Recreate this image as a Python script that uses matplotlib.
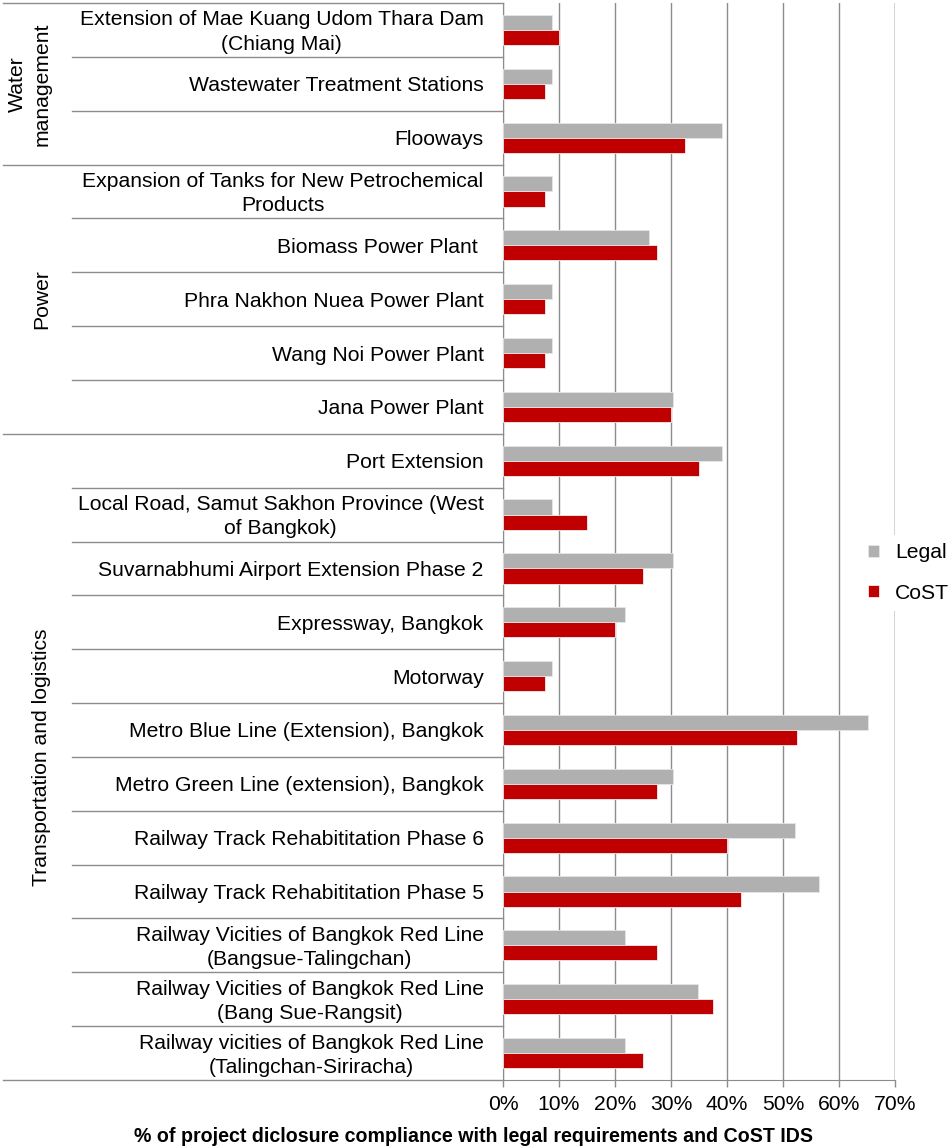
import numpy as np
import matplotlib
matplotlib.use("Agg")
import matplotlib.pyplot as plt
import matplotlib.transforms as mtransforms

plt.rcParams['font.family'] = ['Liberation Sans', 'DejaVu Sans']

# --- project list (top to bottom) and compliance scores ---
projects = [
    "Extension of Mae Kuang Udom Thara Dam\n(Chiang Mai)",
    "Wastewater Treatment Stations",
    "Flooways",
    "Expansion of Tanks for New Petrochemical\nProducts",
    "Biomass Power Plant ",
    "Phra Nakhon Nuea Power Plant",
    "Wang Noi Power Plant",
    "Jana Power Plant",
    "Port Extension",
    "Local Road, Samut Sakhon Province (West\nof Bangkok)",
    "Suvarnabhumi Airport Extension Phase 2",
    "Expressway, Bangkok",
    "Motorway",
    "Metro Blue Line (Extension), Bangkok",
    "Metro Green Line (extension), Bangkok",
    "Railway Track Rehabititation Phase 6",
    "Railway Track Rehabititation Phase 5",
    "Railway Vicities of Bangkok Red Line\n(Bangsue-Talingchan)",
    "Railway Vicities of Bangkok Red Line\n(Bang Sue-Rangsit)",
    "Railway vicities of Bangkok Red Line\n(Talingchan-Siriracha)",
]
legal = [8.7, 8.7, 39.1, 8.7, 26.1, 8.7, 8.7, 30.4, 39.1, 8.7,
         30.4, 21.7, 8.7, 65.2, 30.4, 52.2, 56.5, 21.7, 34.8, 21.7]
cost = [10.0, 7.5, 32.5, 7.5, 27.5, 7.5, 7.5, 30.0, 35.0, 15.0,
        25.0, 20.0, 7.5, 52.5, 27.5, 40.0, 42.5, 27.5, 37.5, 25.0]

sectors = ["Water\nmanagement", "Power", "Transportation and logistics"]
sector_sizes = [3, 5, 12]

xticks = [0, 10, 20, 30, 40, 50, 60, 70]

GRAY = "#b0b0b0"
RED = "#c00000"
LINE = "#8c8c8c"
FS = 15.2
W, H = 951, 1147

fig = plt.figure(figsize=(W / 100, H / 100), dpi=100)
ax = fig.add_axes([503 / W, 1 - 1080 / H, 392 / W, 1077 / H])

n = len(projects)
y = np.arange(n)
bh = 0.28
ax.barh(y - bh / 2, legal, height=bh, color=GRAY, edgecolor="#e6e6e6", linewidth=0.6, label="Legal", zorder=3)
ax.barh(y + bh / 2, cost, height=bh, color=RED, edgecolor="#eeeeee", linewidth=0.6, label="CoST", zorder=3)

ax.set_xlim(0, 70)
ax.set_ylim(n - 0.5, -0.5)
ax.set_xticks(xticks)
ax.set_xticklabels([f"{v}%" for v in xticks])
ax.set_yticks(y)
ax.set_yticklabels(projects)
ax.tick_params(axis="y", length=0, pad=14, labelsize=FS)
ax.tick_params(axis="x", length=5, width=1, color=LINE, pad=6, labelsize=FS)

# two-line names: centre the block and nudge it up a touch
lift = mtransforms.ScaledTranslation(0, 2.5 / 100, fig.dpi_scale_trans)
for lbl in ax.get_yticklabels():
    lbl.set_multialignment("center")
    lbl.set_linespacing(1.35)
    if "\n" in lbl.get_text():
        lbl.set_transform(lbl.get_transform() + lift)

for s in ["top", "right"]:
    ax.spines[s].set_visible(False)
ax.spines["left"].set_color(LINE)
ax.spines["bottom"].set_color(LINE)
ax.xaxis.grid(True, color=LINE, linewidth=1, zorder=0)
ax.axvline(70, color=LINE, linewidth=1, zorder=0)

# separators on the category axis: short ones between projects, long ones between sectors
trans = mtransforms.blended_transform_factory(ax.transAxes, ax.transData)
short_x = (72 - 503) / 392
long_x = (3 - 503) / 392
bounds = np.cumsum([0] + sector_sizes)
for k in range(n + 1):
    x0 = long_x if k in bounds else short_x
    ax.plot([x0, 0], [k - 0.5, k - 0.5], color=LINE, linewidth=1,
            transform=trans, clip_on=False)

# sector names, rotated, centred on their block
ftrans = mtransforms.blended_transform_factory(fig.transFigure, ax.transData)
for name, a, b in zip(sectors, bounds[:-1], bounds[1:]):
    xc = 30 if "\n" in name else 42
    ax.text(xc / W, (a + b - 1) / 2, name, rotation=90, ha="center", va="center",
            multialignment="center", linespacing=1.35, fontsize=FS, transform=ftrans)

leg = ax.legend(loc="center left", bbox_to_anchor=(860 / W, 1 - 573 / H),
                bbox_transform=fig.transFigure, frameon=True, framealpha=1,
                edgecolor="none", fontsize=FS, handlelength=0.52, handleheight=0.52,
                handletextpad=0.75, labelspacing=1.0, borderpad=0.4, borderaxespad=0)
leg.get_frame().set_boxstyle("square", pad=0)

fig.text(473 / W, 1 - 1137 / H,
         "% of project diclosure compliance with legal requirements and CoST IDS",
         ha="center", va="center", fontsize=14.1, fontweight="bold")

fig.savefig("out.png", dpi=100)
